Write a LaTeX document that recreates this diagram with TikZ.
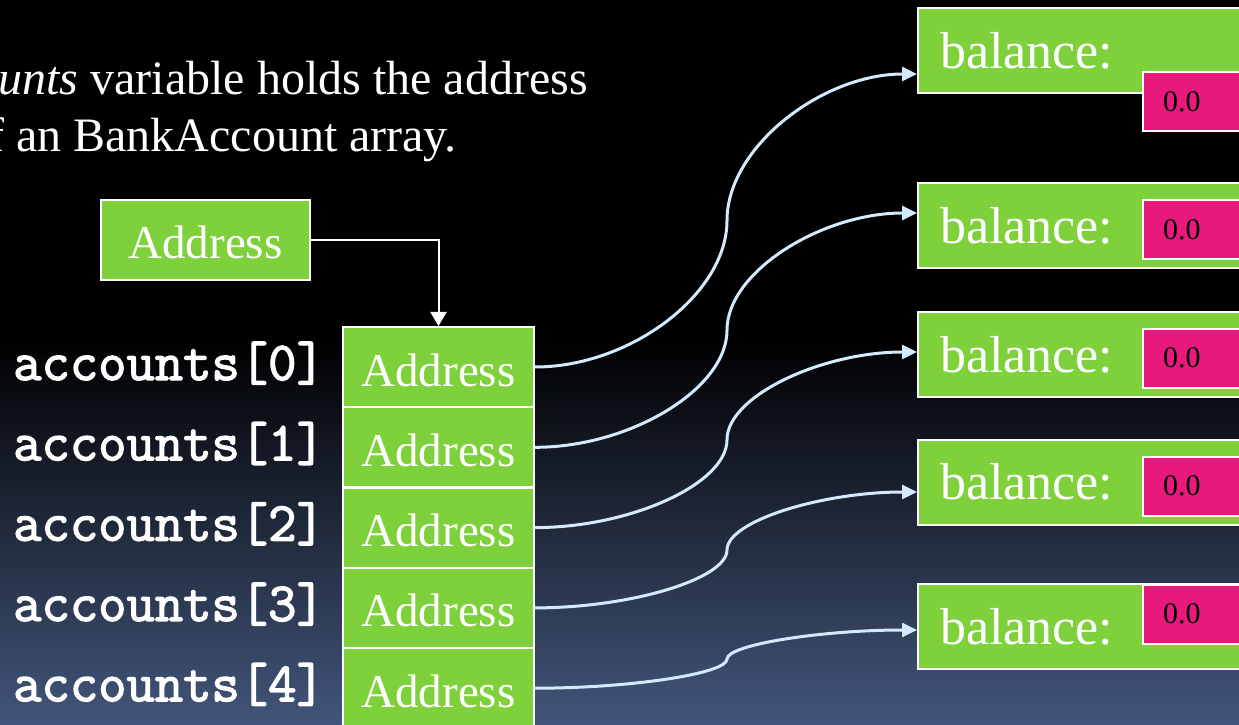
\documentclass[tikz,border=0pt]{standalone}
\usepackage{fontspec}
\setmainfont{Liberation Serif}
\newfontfamily\courbold{Latin Modern Mono}[FakeBold=2.4]
\usetikzlibrary{arrows.meta}
\definecolor{boxgreen}{HTML}{7FD13B}
\definecolor{boxpink}{HTML}{E8187D}
\definecolor{linkblue}{HTML}{D3E9FC}
\definecolor{bgbot}{HTML}{42557A}
\begin{document}
\begin{tikzpicture}[x=1pt,y=1pt,
  greenbox/.style={draw=white, line width=2pt, fill=boxgreen, text=white, inner sep=0pt},
  addrbox/.style={greenbox, minimum width=191pt, minimum height=80pt,
    font=\fontsize{47}{47}\selectfont, text height=38pt, text depth=0pt},
  balbox/.style={greenbox, anchor=west, minimum height=85pt, inner xsep=22pt,
    text width=299pt, font=\fontsize{52}{52}\selectfont},
  pinkbox/.style={draw=white, line width=2pt, fill=boxpink, text=black, anchor=west,
    minimum height=59pt, inner xsep=20pt, inner ysep=0pt, text width=100pt,
    font=\fontsize{30}{30}\selectfont},
  idxlabel/.style={anchor=base east, text=white, inner sep=0pt,
    font=\courbold\fontsize{55}{55}\selectfont},
  titletext/.style={anchor=base east, text=white, inner sep=0pt,
    font=\fontsize{48}{48}\selectfont},
  linkarrow/.style={draw=linkblue, line width=3pt, -{Triangle[length=15pt,width=14pt]}},
  ptr/.style={draw=white, line width=2pt, -{Triangle[length=14pt,width=16pt]}}
]
\useasboundingbox (0,0) rectangle (1239,724);
\fill[black] (0,0) rectangle (1239,724);
\shade[top color=black, bottom color=bgbot] (0,0) rectangle (1239,384);
\clip (0,0) rectangle (1239,724);

% title text
\node[titletext] (t1) at (588,629) {\textit{unts} variable holds the address};
\node[titletext] (t2) at (457,572) {f an BankAccount array.};

% reference variable
\node[addrbox, minimum width=209pt] (addr) at (205.5,484) {Address};

% array
\node[addrbox] (a0) at (438.5,357.0) {Address};
\node[addrbox] (a1) at (438.5,276.7) {Address};
\node[addrbox] (a2) at (438.5,196.4) {Address};
\node[addrbox] (a3) at (438.5,116.1) {Address};
\node[addrbox] (a4) at (438.5,35.8) {Address};

\node[idxlabel] (l0) at ([xshift=-17pt,yshift=-13pt]a0.west) {accounts[0]};
\node[idxlabel] (l1) at ([xshift=-17pt,yshift=-13pt]a1.west) {accounts[1]};
\node[idxlabel] (l2) at ([xshift=-17pt,yshift=-13pt]a2.west) {accounts[2]};
\node[idxlabel] (l3) at ([xshift=-17pt,yshift=-13pt]a3.west) {accounts[3]};
\node[idxlabel] (l4) at ([xshift=-17pt,yshift=-13pt]a4.west) {accounts[4]};

\draw[ptr] (addr.east) -| (a0.north);

% objects
\node[balbox] (b1) at (917,673.5) {balance:};
\node[balbox] (b2) at (917,498) {balance:};
\node[balbox] (b3) at (917,369.5) {balance:};
\node[balbox] (b4) at (917,242) {balance:};
\node[balbox] (b5) at (917,97.5) {balance:};

\node[pinkbox] (p1) at (1142,622.5) {0.0};
\node[pinkbox] (p2) at (1142,494.5) {0.0};
\node[pinkbox] (p3) at (1142,366) {0.0};
\node[pinkbox] (p4) at (1142,238) {0.0};
\node[pinkbox] (p5) at (1142,110) {0.0};

% links
\draw[linkarrow] (a0.east) .. controls (630.5,357) and (727,430.25) .. (727,503.5)
  .. controls (727,576.75) and (822,650) .. ([yshift=-23.5pt]b1.west);
\draw[linkarrow] (a1.east) .. controls (630.5,276.7) and (727,335.3) .. (727,393.85)
  .. controls (727,452.4) and (822,511) .. ([yshift=13pt]b2.west);
\draw[linkarrow] (a2.east) .. controls (630.5,196.4) and (727,240.3) .. (727,284.2)
  .. controls (727,328.1) and (822,372) .. ([yshift=2.5pt]b3.west);
\draw[linkarrow] (a3.east) .. controls (630.5,116.1) and (727,145.1) .. (727,174.05)
  .. controls (727,203.0) and (822,232) .. ([yshift=-10pt]b4.west);
\draw[linkarrow] (a4.east) .. controls (630.5,35.8) and (727,50.35) .. (727,64.9)
  .. controls (727,79.45) and (822,94) .. ([yshift=-3.5pt]b5.west);
\end{tikzpicture}
\end{document}
